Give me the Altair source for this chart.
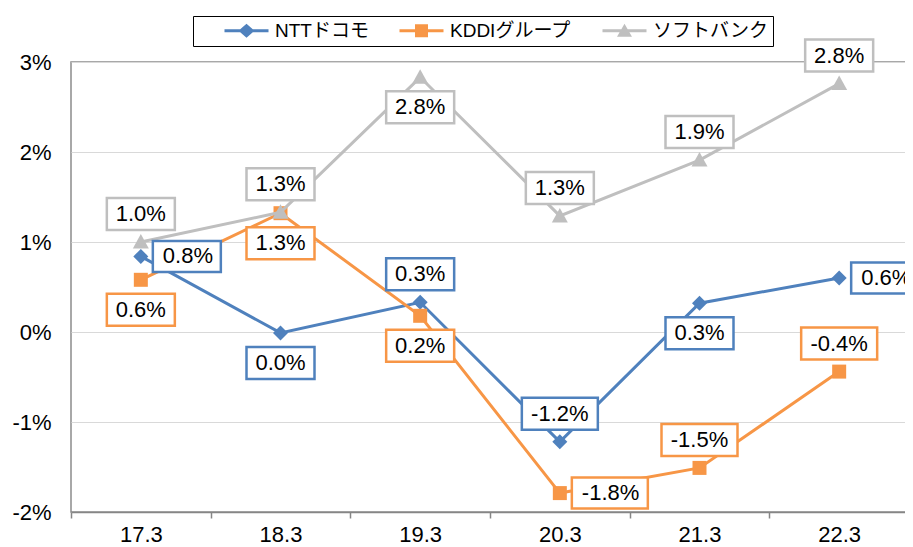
import altair as alt
import pandas as pd

# ---- data ----
cats = ["17.3", "18.3", "19.3", "20.3", "21.3", "22.3"]
series = ["NTTドコモ", "KDDIグループ", "ソフトバンク"]
ntt = [0.84, -0.01, 0.33, -1.22, 0.32, 0.60]
kddi = [0.58, 1.32, 0.18, -1.79, -1.51, -0.44]
softbank = [1.00, 1.33, 2.83, 1.29, 1.91, 2.76]
y_ticks = [-2, -1, 0, 1, 2, 3]

# label placement relative to each point
ntt_pos = ["right", "below", "above", "above", "below", "right"]
kddi_pos = ["below", "below", "below", "right", "above", "above"]
sb_pos = ["above", "above", "below", "above", "above", "above"]

colors = ["#4F81BD", "#F79646", "#BFBFBF"]

rows = []
for s, vals, poss in zip(series, [ntt, kddi, softbank], [ntt_pos, kddi_pos, sb_pos]):
    for c, v, p in zip(cats, vals, poss):
        rows.append({"cat": c, "series": s, "v": v, "pos": p})
df = pd.DataFrame(rows)

# ---- marker shapes (pixel paths, drawn with size=4 -> scale 1) ----
marker_paths = [
    "M0,-7.5L7.5,0L0,7.5L-7.5,0Z",
    "M-7,-7H7V7H-7Z",
    "M0,-8L8,6.5L-8,6.5Z",
]


def legend_path(marker_pts, s=7.0):
    def f(v):
        return f"{v / s:.3f}"
    line = f"M{f(-22)},{f(-1.5)}H{f(22)}V{f(1.5)}H{f(-22)}Z"
    m = "M" + "L".join(f"{f(px)},{f(py)}" for px, py in marker_pts) + "Z"
    return line + " " + m


legend_paths = [
    legend_path([(0, -7), (8, 0), (0, 7), (-8, 0)]),
    legend_path([(-6.5, -6.5), (6.5, -6.5), (6.5, 6.5), (-6.5, 6.5)]),
    legend_path([(0, -7), (7.5, 6), (-7.5, 6)]),
]

FONT = "Liberation Sans"
NB = "\u00a0"

x = alt.X(
    "cat:N",
    sort=cats,
    scale=alt.Scale(domain=cats, paddingInner=0, paddingOuter=0),
    axis=alt.Axis(
        title=None,
        labelAngle=0,
        labelFontSize=22,
        labelFont=FONT,
        labelColor="black",
        labelPadding=6,
        tickBand="extent",
        ticks=True,
        tickSize=6,
        tickColor="#868686",
        tickWidth=1.5,
        domainColor="#868686",
        domainWidth=1.5,
        grid=False,
    ),
)
y = alt.Y(
    "v:Q",
    scale=alt.Scale(domain=[-2, 3], nice=False, zero=False),
    axis=alt.Axis(
        title=None,
        values=y_ticks,
        labelExpr="(datum.value < 0 ? '-' : '') + abs(datum.value) + '%'",
        labelFontSize=22,
        labelFont=FONT,
        labelColor="black",
        labelPadding=20,
        ticks=False,
        domain=False,
        grid=True,
        gridColor="#D9D9D9",
        gridWidth=1,
    ),
)
color_scale = alt.Scale(domain=series, range=colors)

leg = alt.Legend(
    title=None,
    orient="none",
    legendX=122,
    legendY=-46,
    direction="horizontal",
    columns=3,
    strokeColor="black",
    fillColor="white",
    padding=5,
    symbolSize=196,
    symbolOffset=39,
    labelOffset=19,
    columnPadding=4,
    labelFontSize=19,
    labelLimit=400,
    labelFont="Liberation Sans, Noto Sans CJK JP",
    labelColor="black",
    symbolStrokeWidth=0,
    symbolOpacity=1,
    labelExpr=(
        f"datum.label == 'KDDIグループ' ? datum.label + '{NB * 4}' : "
        f"datum.label == 'ソフトバンク' ? datum.label + '{NB * 9}' : datum.label"
    ),
)

base = alt.Chart(df)
layers = []
for s, mp, col in zip(series, marker_paths, colors):
    sub = base.transform_filter(alt.datum.series == s)
    layers.append(sub.mark_line(strokeWidth=3, color=col).encode(x=x, y=y))
    layers.append(
        sub.mark_point(filled=True, opacity=1, shape=mp, size=4, strokeWidth=0, color=col).encode(
            x=x, y=y
        )
    )

# legend provider (no visible marks)
layers.append(
    base.transform_filter("false")
    .mark_point(filled=True, opacity=1)
    .encode(
        x=x,
        y=y,
        color=alt.Color("series:N", scale=color_scale, legend=leg),
        shape=alt.Shape("series:N", scale=alt.Scale(domain=series, range=legend_paths), legend=leg),
    )
)

lab = base.transform_calculate(
    label="(datum.v <= -0.05 ? '-' : '') + format(abs(datum.v), '.1f') + '%'"
).transform_calculate(
    hw="(68 + (length(datum.label) - 4) * 8) / 2"
).transform_calculate(
    box="datum.pos == 'above' ? 'M' + (-datum.hw) + ',-44H' + datum.hw + 'V-12H' + (-datum.hw) + 'Z' : "
        "datum.pos == 'below' ? 'M' + (-datum.hw) + ',14H' + datum.hw + 'V46H' + (-datum.hw) + 'Z' : "
        "'M12,-15.5H' + (12 + 2 * datum.hw) + 'V15.5H12Z'"
)

layers.append(
    lab.mark_point(filled=True, fill="white", strokeWidth=2.5, opacity=1, size=4).encode(
        x=x,
        y=y,
        shape=alt.Shape("box:N", scale=None),
        stroke=alt.Stroke("series:N", scale=alt.Scale(domain=series, range=colors), legend=None),
    )
)

for p, kw in [
    ("above", dict(dy=-28, align="center")),
    ("below", dict(dy=30, align="center")),
    ("right", dict(dx=22, align="left")),
]:
    layers.append(
        lab.transform_filter(alt.datum.pos == p)
        .mark_text(fontSize=22, font=FONT, color="black", baseline="middle", **kw)
        .encode(x=x, y=y, text="label:N")
    )

chart = (
    alt.layer(*layers)
    .properties(
        width=838,
        height=450,
        autosize=alt.AutoSizeParams(type="none"),
        padding={"left": 63, "top": 54, "right": -4, "bottom": 35},
        background="white",
    )
    .configure_view(stroke="#8C8C8C", strokeWidth=1.5)
)

chart.save("out.html", embed_options={"renderer": "svg", "actions": False})
